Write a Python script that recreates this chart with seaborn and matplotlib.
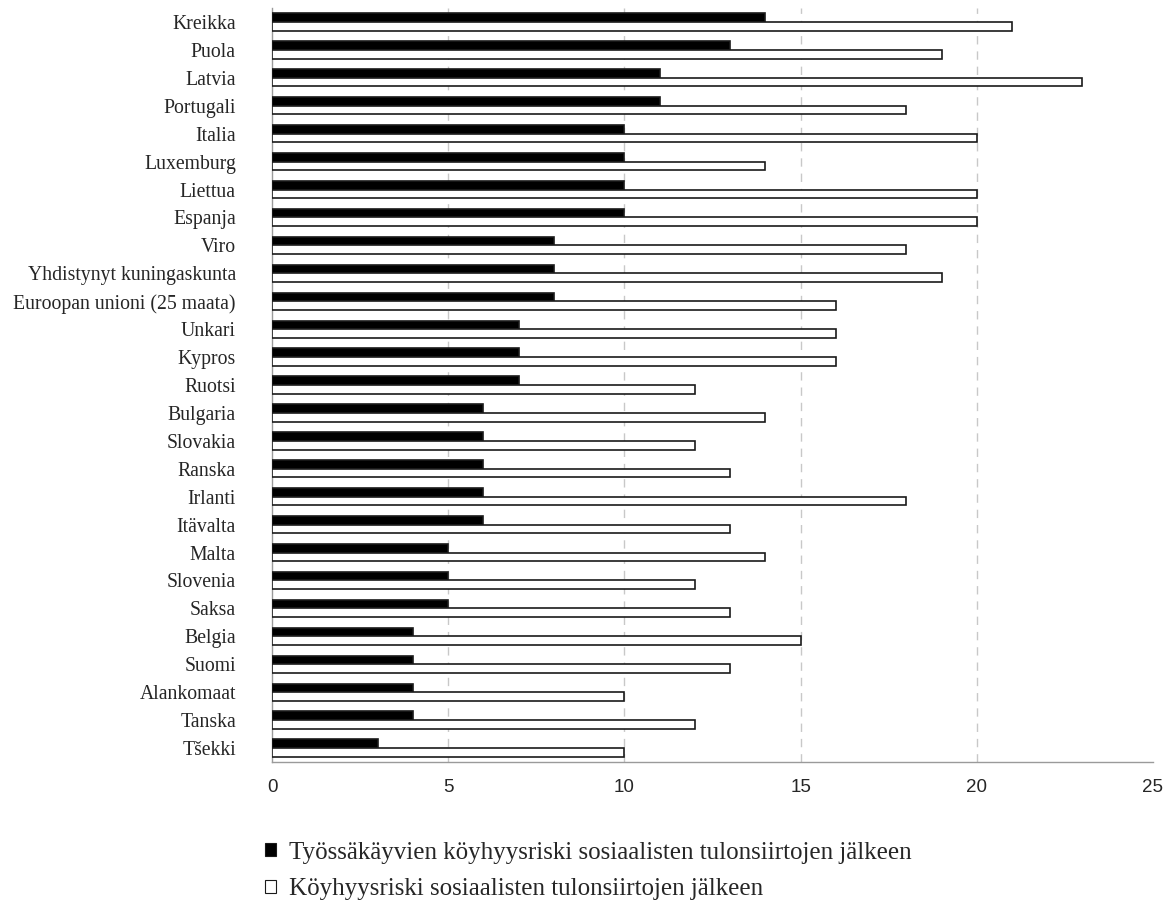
import matplotlib
matplotlib.use("Agg")
import matplotlib.pyplot as plt
import numpy as np
import pandas as pd
import seaborn as sns

countries = [
    "Kreikka", "Puola", "Latvia", "Portugali", "Italia", "Luxemburg", "Liettua",
    "Espanja", "Viro", "Yhdistynyt kuningaskunta", "Euroopan unioni (25 maata)",
    "Unkari", "Kypros", "Ruotsi", "Bulgaria", "Slovakia", "Ranska", "Irlanti",
    "Itävalta", "Malta", "Slovenia", "Saksa", "Belgia", "Suomi", "Alankomaat",
    "Tanska", "Tšekki",
]
working_poor = [14, 13, 11, 11, 10, 10, 10, 10, 8, 8, 8, 7, 7, 7, 6, 6, 6, 6, 6,
                5, 5, 5, 4, 4, 4, 4, 3]
poverty_risk = [21, 19, 23, 18, 20, 14, 20, 20, 18, 19, 16, 16, 16, 12, 14, 12,
                13, 18, 13, 14, 12, 13, 15, 13, 10, 12, 10]
series_names = [
    "Työssäkäyvien köyhyysriski sosiaalisten tulonsiirtojen jälkeen",
    "Köyhyysriski sosiaalisten tulonsiirtojen jälkeen",
]
x_ticks = [0, 5, 10, 15, 20, 25]

df = pd.DataFrame({
    "maa": countries * 2,
    "arvo": working_poor + poverty_risk,
    "sarja": [series_names[0]] * len(countries) + [series_names[1]] * len(countries),
})

sns.set_theme(style="white")
plt.rcParams["font.family"] = ["Liberation Serif", "DejaVu Serif"]

fig = plt.figure(figsize=(11.76, 9.02), dpi=100)
ax = fig.add_axes([0.2313, 0.1552, 0.7491, 0.8359])

sns.barplot(
    data=df, x="arvo", y="maa", hue="sarja", orient="h",
    palette=["black", "white"], edgecolor="#1a1a1a", linewidth=1.2,
    width=0.62, gap=0, dodge=True, ax=ax, zorder=3,
)

ax.set_xlim(0, 25)
ax.set_ylim(len(countries) - 0.5, -0.5)
ax.set_xticks(x_ticks)
ax.set_xticklabels([str(t) for t in x_ticks], family="Liberation Sans", fontsize=13.5)
ax.set_yticks(range(len(countries)))
ax.set_yticklabels(countries, fontsize=14.2)
ax.set_yticks(np.arange(-0.5, len(countries), 1.0), minor=True)
ax.tick_params(axis="y", which="major", length=0, pad=26)
ax.tick_params(axis="y", which="minor", length=5, color="#9a9a9a", width=1)
ax.tick_params(axis="x", which="major", length=5, color="#9a9a9a", width=1, pad=7)
ax.set_xlabel("")
ax.set_ylabel("")

for s in ("top", "right"):
    ax.spines[s].set_visible(False)
for s in ("left", "bottom"):
    ax.spines[s].set_color("#9a9a9a")
    ax.spines[s].set_linewidth(1)

for t in x_ticks[1:-1]:
    ax.axvline(t, color="#c8c8c8", linestyle=(0, (6, 5)), linewidth=1, zorder=1)

handles, labels = ax.get_legend_handles_labels()
ax.legend_.remove()
for h in handles:
    h.set_linewidth(0.8)
fig.legend(
    handles, labels, loc="upper left", bbox_to_anchor=(0.2255, 0.067),
    frameon=False, fontsize=18, handlelength=0.42, handleheight=0.42,
    handletextpad=0.55, labelspacing=0.58, borderpad=0, borderaxespad=0,
)

fig.savefig("out.png", dpi=100)
